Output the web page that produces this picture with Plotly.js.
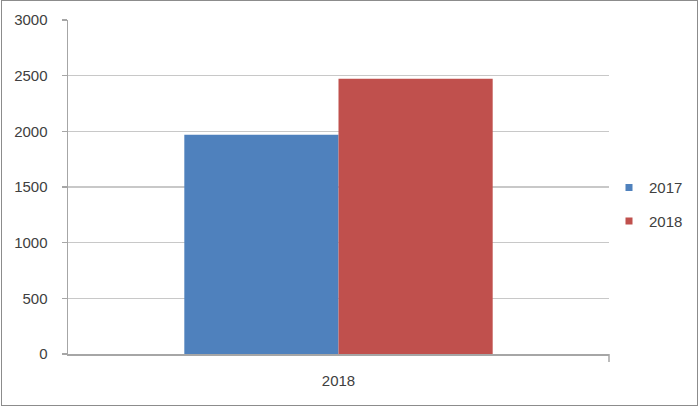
<!DOCTYPE html>
<html>
<head>
<meta charset="utf-8">
<script src="https://cdn.plot.ly/plotly-3.0.1.min.js"></script>
<style>
html,body{margin:0;padding:0;background:#fff;}
#wrap{position:relative;width:700px;height:408px;}
#chart{width:700px;height:408px;}
#frame{position:absolute;left:1px;top:0px;width:695px;height:404px;border:1.5px solid #8c8c8c;pointer-events:none;}
</style>
</head>
<body>
<div id="wrap"><div id="chart"></div><div id="frame"></div></div>
<script>
const categories = ["2018"];
const seriesNames = ["2017", "2018"];
const values2017 = [1970];
const values2018 = [2472];
const colors = ["#4f81bd", "#c0504d"];
const yTicks = [0, 500, 1000, 1500, 2000, 2500, 3000];

const font = {family: "Liberation Sans, Arial, sans-serif", size: 15, color: "#404040"};

const barTraces = [values2017, values2018].map((vals, i) => ({
  type: "bar",
  name: seriesNames[i],
  x: categories,
  y: vals,
  marker: {color: colors[i], line: {width: 0}},
  showlegend: false,
  hoverinfo: "y"
}));

// legend-only entries with small square swatches
const legendTraces = seriesNames.map((nm, i) => ({
  type: "scatter",
  mode: "markers",
  name: nm,
  x: categories,
  y: [null],
  marker: {symbol: "square", size: 7, color: colors[i]},
  legendgroup: "g" + i,
  hoverinfo: "skip"
}));

const layout = {
  width: 700, height: 408,
  margin: {l: 68, r: 91, t: 20, b: 54},
  paper_bgcolor: "#ffffff",
  plot_bgcolor: "#ffffff",
  font: font,
  barmode: "group",
  bargap: 0.43,
  bargroupgap: 0,
  showlegend: true,
  legend: {x: 1.0, xanchor: "left", y: 0.448, yanchor: "middle", font: font,
           tracegroupgap: 11, bgcolor: "rgba(0,0,0,0)", itemwidth: 30},
  xaxis: {
    type: "category",
    showgrid: false,
    showline: true, linecolor: "#a6a6a6", linewidth: 1.5,
    ticks: "", tickfont: font, automargin: false,
    ticklabelstandoff: 12
  },
  yaxis: {
    range: [0, 3000],
    tickvals: yTicks,
    ticktext: yTicks.map(String),
    showgrid: true, gridcolor: "#c8c8c8", gridwidth: 1.5,
    zeroline: false,
    showline: true, linecolor: "#a6a6a6", linewidth: 1.5,
    ticks: "outside", ticklen: 5, tickcolor: "#a6a6a6", tickwidth: 1.5,
    tickfont: font, automargin: false,
    ticklabelstandoff: 11
  },
  shapes: [
    {type: "line", xref: "paper", yref: "paper", x0: 1, x1: 1, y0: 0, y1: -0.024,
     line: {color: "#a6a6a6", width: 1.5}}
  ]
};

Plotly.newPlot("chart", barTraces.concat(legendTraces), layout, {displayModeBar: false, staticPlot: true});
</script>
</body>
</html>
